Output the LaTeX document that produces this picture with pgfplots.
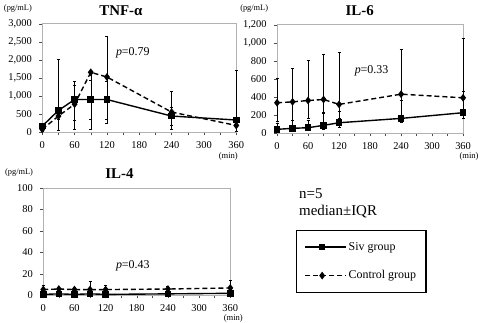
\documentclass[border=0pt]{standalone}
\usepackage{pgfplots}
\pgfplotsset{compat=1.18}
\usepackage{fontspec}
\setmainfont{Liberation Serif}
\begin{document}
\pgfplotsset{
  panel/.style={
    scale only axis, clip=false,
    xmin=0, xmax=360,
    xtick={0,30,...,360},
    xticklabels={0,,60,,120,,180,,240,,300,,360},
    xtick pos=left, ytick pos=left,
    tick align=outside,
    axis line style={gray!60, line width=0.8pt},
    tick style={black!70, line width=0.5pt},
    major tick length=3pt,
    ticklabel style={font=\fontsize{10.5}{12}\selectfont},
    xticklabel style={yshift=-3pt},
    yticklabel style={xshift=-4pt},
    /pgf/number format/assume math mode=true,
    /pgf/number format/1000 sep={,},
    scaled y ticks=false,
    legend image code/.code={\draw[mark repeat=2,mark phase=2,##1] plot coordinates {(0pt,0pt) (17pt,0pt) (34pt,0pt)};
      \path (0pt,0pt) -- (41pt,0pt);},
  },
  siv/.style={black, line width=1.4pt, mark=square*, mark size=2.6pt, mark options={solid},
    error bars/.cd, y dir=both, y explicit,
    error bar style={line width=0.5pt, solid, black},
    error mark options={line width=0.5pt, mark size=1.5pt, solid, rotate=90}},
  ctl/.style={black, line width=1.4pt, dash pattern=on 5pt off 3pt, mark=diamond*, mark size=2.8pt, mark options={solid},
    error bars/.cd, y dir=both, y explicit,
    error bar style={line width=0.5pt, solid, black},
    error mark options={line width=0.5pt, mark size=1.5pt, solid, rotate=90}},
}
\begin{tikzpicture}[x=1pt,y=1pt]
\useasboundingbox (0,0) rectangle (481,-324);

% TNF-alpha
\begin{axis}[panel, at={(40pt,-133pt)}, anchor=south west, width=195pt, height=109pt,
  ymin=0, ymax=3000, ytick={0,500,...,3000}]
\addplot[siv] coordinates {
 (0,173) += (0,90) -= (0,100)
 (30,605) += (0,1425) -= (0,255)
 (60,907) += (0,393) -= (0,577)
 (90,907) += (0,543) -= (0,557)
 (120,907) += (0,493) -= (0,557)
 (240,450) += (0,250) -= (0,250)
 (360,340) += (0,1390) -= (0,140)
};
\addplot[ctl] coordinates {
 (0,82) += (0,70) -= (0,60)
 (30,450) += (0,250) -= (0,400)
 (60,780) += (0,630) -= (0,700)
 (90,1660) += (0,30) -= (0,1580)
 (120,1530) += (0,1120) -= (0,1290)
 (240,560) += (0,575) -= (0,480)
 (360,190) += (0,200) -= (0,170)
};
\end{axis}

% IL-6
\begin{axis}[panel, at={(276pt,-134pt)}, anchor=south west, width=187pt, height=109pt,
  ymin=0, ymax=1200, ytick={0,200,...,1200}]
\addplot[siv] coordinates {
 (0,44) += (0,66) -= (0,20)
 (30,55) += (0,85) -= (0,25)
 (60,62) += (0,80) -= (0,30)
 (90,88) += (0,150) -= (0,40)
 (120,117) += (0,130) -= (0,50)
 (240,165) += (0,200) -= (0,40)
 (360,228) += (0,240) -= (0,60)
};
\addplot[ctl] coordinates {
 (0,338) += (0,274) -= (0,200)
 (30,348) += (0,367) -= (0,200)
 (60,363) += (0,440) -= (0,200)
 (90,374) += (0,503) -= (0,150)
 (120,320) += (0,579) -= (0,150)
 (240,433) += (0,499) -= (0,280)
 (360,393) += (0,660) -= (0,230)
};
\end{axis}

% IL-4
\begin{axis}[panel, at={(41pt,-297pt)}, anchor=south west, width=188pt, height=108pt,
  ymin=0, ymax=100, ytick={0,20,...,100},
  legend style={at={(1.351,0.611)}, anchor=north west, draw=black, line width=1.3pt,
    font=\fontsize{12}{14}\selectfont, inner xsep=8pt, inner ysep=10pt, row sep=15pt,
    cells={anchor=west}},
  legend cell align=left]
\addplot[siv] coordinates {
 (0,1) += (0,2) -= (0,1)
 (30,1.5) += (0,2) -= (0,1)
 (60,1) += (0,2) -= (0,1)
 (90,1.5) += (0,2) -= (0,1)
 (120,1) += (0,2) -= (0,1)
 (240,1.5) += (0,2) -= (0,1)
 (360,2) += (0,2) -= (0,1)
};
\addlegendentry{Siv group}
\addplot[ctl] coordinates {
 (0,5.5) += (0,4) -= (0,3)
 (30,6) += (0,1.7) -= (0,3)
 (60,5.5) += (0,2.2) -= (0,3)
 (90,5.5) += (0,7.5) -= (0,3)
 (120,5.5) += (0,4) -= (0,3)
 (240,6) += (0,2.6) -= (0,3)
 (360,7) += (0,7) -= (0,3)
};
\addlegendentry{Control group}
\end{axis}

% titles and labels
\node[font=\bfseries\fontsize{15}{17}\selectfont] at (119,-11) {TNF-α};
\node[font=\bfseries\fontsize{15}{17}\selectfont] at (359,-11) {IL-6};
\node[font=\bfseries\fontsize{15}{17}\selectfont] at (117.5,-174) {IL-4};
\node[font=\fontsize{8.4}{10}\selectfont] at (15.5,-9) {(pg/mL)};
\node[font=\fontsize{8.4}{10}\selectfont] at (253,-9) {(pg/mL)};
\node[font=\fontsize{8.4}{10}\selectfont] at (16.7,-173) {(pg/mL)};
\node[font=\fontsize{8.6}{9}\selectfont, inner sep=0pt] at (227,-157.5) {(min)};
\node[font=\fontsize{8.6}{9}\selectfont, inner sep=0pt] at (469,-157.5) {(min)};
\node[font=\fontsize{8.6}{9}\selectfont, inner sep=0pt] at (232,-320.5) {(min)};
\node[font=\fontsize{12}{14}\selectfont] at (131,-53) {\textit{p}=0.79};
\node[font=\fontsize{12}{14}\selectfont] at (371,-71) {\textit{p}=0.33};
\node[font=\fontsize{12}{14}\selectfont] at (131,-267) {\textit{p}=0.43};
\node[font=\fontsize{15}{17}\selectfont, anchor=west, inner sep=0pt] at (298,-195) {n=5};
\node[font=\fontsize{15}{17}\selectfont, anchor=west, inner sep=0pt] at (298,-213) {median±IQR};
\end{tikzpicture}
\end{document}
